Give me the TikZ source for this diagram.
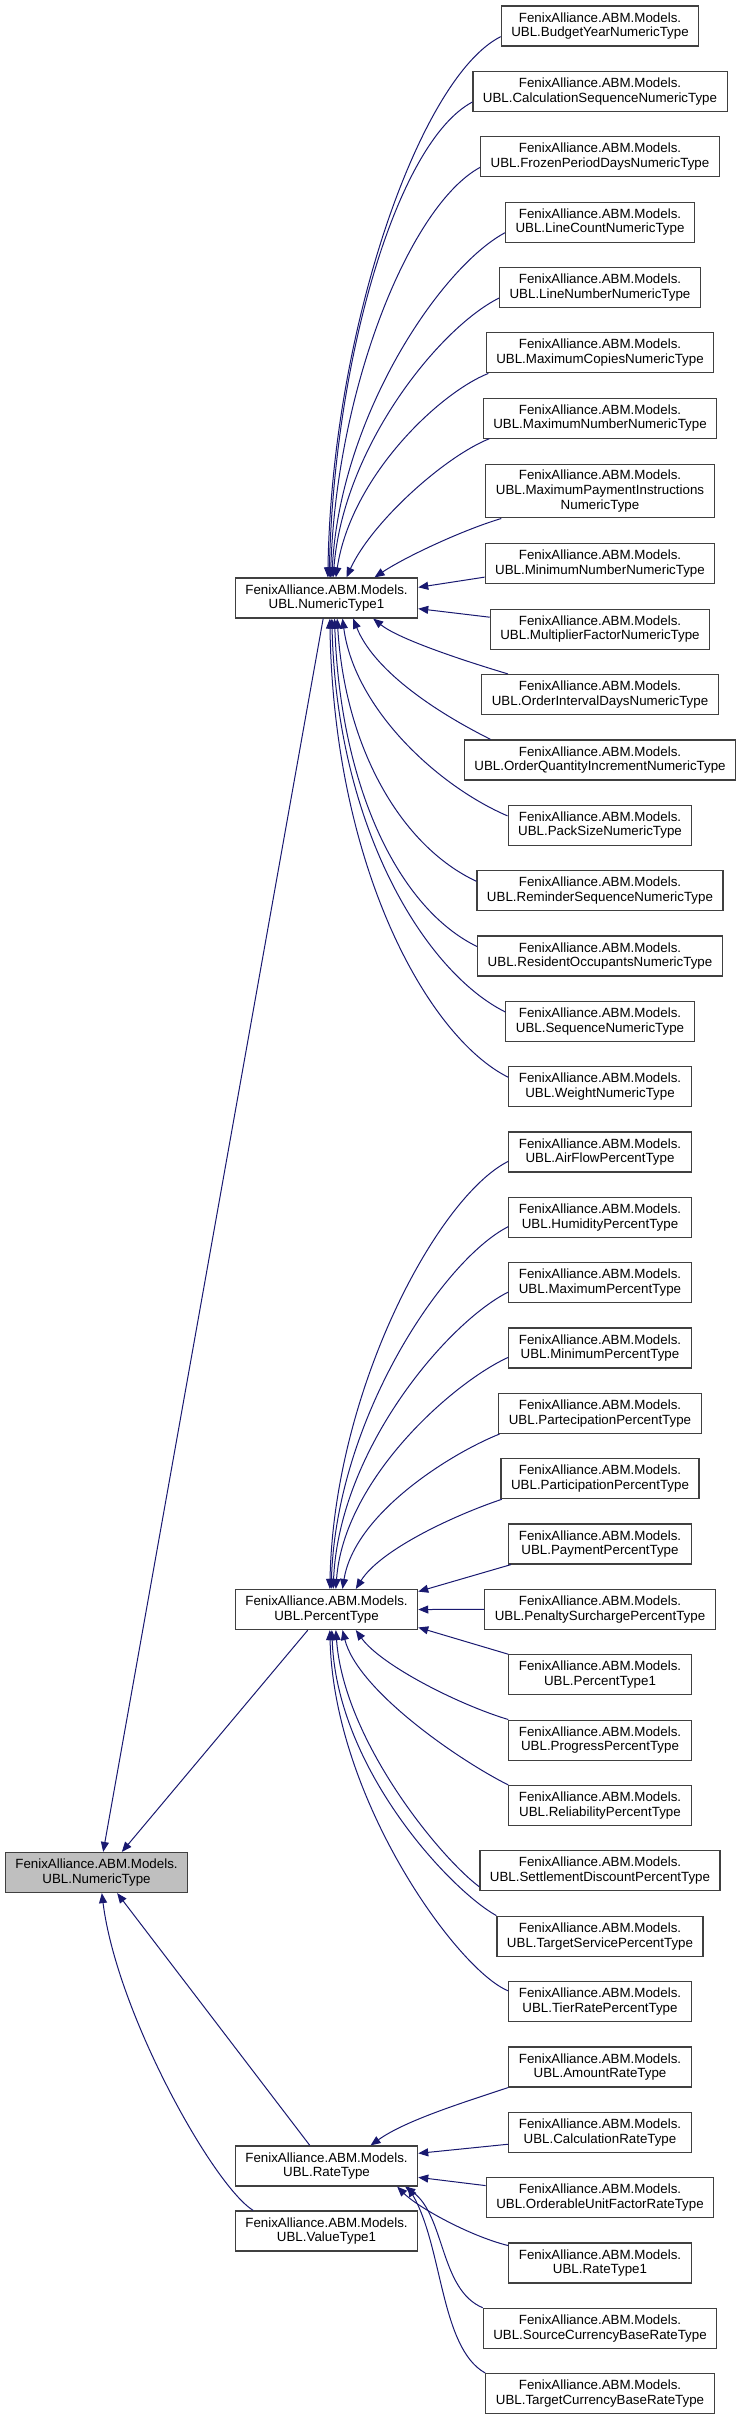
\documentclass[tikz,border=0pt]{standalone}
\usepackage{fontspec}
\setmainfont{Liberation Sans}
\usepackage{tikz}
\usetikzlibrary{arrows.meta}
\definecolor{edgecolor}{RGB}{25,25,112}
\definecolor{bordercolor}{RGB}{64,64,64}
\definecolor{rootcolor}{RGB}{191,191,191}

\tikzset{
  box/.style={draw=bordercolor, line width=0.9pt, fill=white, align=center,
    font=\fontsize{10}{11}\selectfont, inner xsep=7.5pt, inner ysep=4.5pt, minimum height=30pt},
  rootbox/.style={box, fill=rootcolor},
  edge/.style={draw=edgecolor, line width=0.75pt, -{Triangle[length=7.5pt,width=6pt]}}
}

\begin{document}
\begin{tikzpicture}[x=0.75pt, y=-0.75pt]
\useasboundingbox (0,0) rectangle (739,2420);

% Base class and the middle column
\node[rootbox] (numeric) at (96.5,1872.5) {FenixAlliance.ABM.Models.\\UBL.NumericType};
\node[box] (num1) at (326.5,598) {FenixAlliance.ABM.Models.\\UBL.NumericType1};
\node[box] (pct) at (326.5,1609.5) {FenixAlliance.ABM.Models.\\UBL.PercentType};
\node[box] (rate) at (326.5,2166) {FenixAlliance.ABM.Models.\\UBL.RateType};
\node[box] (value1) at (326.5,2231) {FenixAlliance.ABM.Models.\\UBL.ValueType1};

% Numeric types
\node[box] (bud) at (600,26) {FenixAlliance.ABM.Models.\\UBL.BudgetYearNumericType};
\node[box] (calcseq) at (600,91.4) {FenixAlliance.ABM.Models.\\UBL.CalculationSequenceNumericType};
\node[box] (frozen) at (600,156.7) {FenixAlliance.ABM.Models.\\UBL.FrozenPeriodDaysNumericType};
\node[box] (linecount) at (600,222.1) {FenixAlliance.ABM.Models.\\UBL.LineCountNumericType};
\node[box] (linenum) at (600,287.4) {FenixAlliance.ABM.Models.\\UBL.LineNumberNumericType};
\node[box] (maxcopies) at (600,352.8) {FenixAlliance.ABM.Models.\\UBL.MaximumCopiesNumericType};
\node[box] (maxnum) at (600,418.1) {FenixAlliance.ABM.Models.\\UBL.MaximumNumberNumericType};
\node[box] (maxpay) at (600,491) {FenixAlliance.ABM.Models.\\UBL.MaximumPaymentInstructions\\NumericType};
\node[box] (minnum) at (600,563.8) {FenixAlliance.ABM.Models.\\UBL.MinimumNumberNumericType};
\node[box] (multfac) at (600,629.2) {FenixAlliance.ABM.Models.\\UBL.MultiplierFactorNumericType};
\node[box] (ordint) at (600,694.5) {FenixAlliance.ABM.Models.\\UBL.OrderIntervalDaysNumericType};
\node[box] (ordqty) at (600,759.9) {FenixAlliance.ABM.Models.\\UBL.OrderQuantityIncrementNumericType};
\node[box] (packsize) at (600,825.2) {FenixAlliance.ABM.Models.\\UBL.PackSizeNumericType};
\node[box] (remseq) at (600,890.6) {FenixAlliance.ABM.Models.\\UBL.ReminderSequenceNumericType};
\node[box] (resocc) at (600,955.9) {FenixAlliance.ABM.Models.\\UBL.ResidentOccupantsNumericType};
\node[box] (seqnum) at (600,1021.3) {FenixAlliance.ABM.Models.\\UBL.SequenceNumericType};
\node[box] (weight) at (600,1086.6) {FenixAlliance.ABM.Models.\\UBL.WeightNumericType};

% Percent types
\node[box] (airflow) at (600,1152) {FenixAlliance.ABM.Models.\\UBL.AirFlowPercentType};
\node[box] (humidity) at (600,1217.3) {FenixAlliance.ABM.Models.\\UBL.HumidityPercentType};
\node[box] (maxpct) at (600,1282.7) {FenixAlliance.ABM.Models.\\UBL.MaximumPercentType};
\node[box] (minpct) at (600,1348) {FenixAlliance.ABM.Models.\\UBL.MinimumPercentType};
\node[box] (partec) at (600,1413.4) {FenixAlliance.ABM.Models.\\UBL.PartecipationPercentType};
\node[box] (partic) at (600,1478.7) {FenixAlliance.ABM.Models.\\UBL.ParticipationPercentType};
\node[box] (payment) at (600,1544) {FenixAlliance.ABM.Models.\\UBL.PaymentPercentType};
\node[box] (penalty) at (600,1609.4) {FenixAlliance.ABM.Models.\\UBL.PenaltySurchargePercentType};
\node[box] (pct1) at (600,1674.8) {FenixAlliance.ABM.Models.\\UBL.PercentType1};
\node[box] (progress) at (600,1740.1) {FenixAlliance.ABM.Models.\\UBL.ProgressPercentType};
\node[box] (reliab) at (600,1805.5) {FenixAlliance.ABM.Models.\\UBL.ReliabilityPercentType};
\node[box] (settle) at (600,1870.8) {FenixAlliance.ABM.Models.\\UBL.SettlementDiscountPercentType};
\node[box] (tgtserv) at (600,1936.2) {FenixAlliance.ABM.Models.\\UBL.TargetServicePercentType};
\node[box] (tierrate) at (600,2001.5) {FenixAlliance.ABM.Models.\\UBL.TierRatePercentType};

% Rate types
\node[box] (amount) at (600,2066.9) {FenixAlliance.ABM.Models.\\UBL.AmountRateType};
\node[box] (calcrate) at (600,2132.2) {FenixAlliance.ABM.Models.\\UBL.CalculationRateType};
\node[box] (orderable) at (600,2197.6) {FenixAlliance.ABM.Models.\\UBL.OrderableUnitFactorRateType};
\node[box] (rate1) at (600,2262.9) {FenixAlliance.ABM.Models.\\UBL.RateType1};
\node[box] (srccur) at (600,2328.3) {FenixAlliance.ABM.Models.\\UBL.SourceCurrencyBaseRateType};
\node[box] (tgtcur) at (600,2393.6) {FenixAlliance.ABM.Models.\\UBL.TargetCurrencyBaseRateType};

% Edges into NumericType1
\draw[edge] ([yshift=-8pt]bud.west) .. controls +(-80,40) and +(4,-250) .. ([xshift=1pt]num1.north);
\draw[edge] ([yshift=-8pt]calcseq.west) .. controls +(-75,40) and +(5,-220) .. ([xshift=2pt]num1.north);
\draw[edge] ([yshift=-8pt]frozen.west) .. controls +(-70,38) and +(6,-190) .. ([xshift=3pt]num1.north);
\draw[edge] ([yshift=-8pt]linecount.west) .. controls +(-65,35) and +(8,-160) .. ([xshift=4pt]num1.north);
\draw[edge] ([yshift=-8pt]linenum.west) .. controls +(-60,30) and +(10,-130) .. ([xshift=5pt]num1.north);
\draw[edge] ([xshift=2pt]maxcopies.south west) .. controls +(-50,20) and +(15,-100) .. ([xshift=7pt]num1.north);
\draw[edge] ([xshift=5pt]maxnum.south west) .. controls +(-45,18) and +(25,-55) .. ([xshift=15pt]num1.north);
\draw[edge] ([xshift=12pt]maxpay.south west) .. controls +(-40,12) and +(30,-20) .. ([xshift=36pt]num1.north);
\draw[edge] ([yshift=-10pt]minnum.west) -- ([yshift=8pt]num1.east);
\draw[edge] ([yshift=9pt]multfac.west) -- ([yshift=-8pt]num1.east);
\draw[edge] ([xshift=20pt]ordint.north west) .. controls +(-50,-15) and +(25,20) .. ([xshift=35pt]num1.south);
\draw[edge] ([xshift=20pt]ordqty.north west) .. controls +(-60,-30) and +(20,50) .. ([xshift=20pt]num1.south);
\draw[edge] ([yshift=7pt]packsize.west) .. controls +(-70,-30) and +(12,90) .. ([xshift=12pt]num1.south);
\draw[edge] ([yshift=7pt]remseq.west) .. controls +(-75,-35) and +(8,130) .. ([xshift=8pt]num1.south);
\draw[edge] ([yshift=7pt]resocc.west) .. controls +(-78,-38) and +(6,170) .. ([xshift=6pt]num1.south);
\draw[edge] ([yshift=7pt]seqnum.west) .. controls +(-80,-40) and +(5,210) .. ([xshift=4pt]num1.south);
\draw[edge] ([yshift=7pt]weight.west) .. controls +(-80,-40) and +(4,250) .. ([xshift=2.5pt]num1.south);

% Edges into PercentType
\draw[edge] ([yshift=-7pt]airflow.west) .. controls +(-70,35) and +(4,-200) .. ([xshift=2.5pt]pct.north);
\draw[edge] ([yshift=-7pt]humidity.west) .. controls +(-65,33) and +(5,-170) .. ([xshift=3.5pt]pct.north);
\draw[edge] ([yshift=-7pt]maxpct.west) .. controls +(-60,30) and +(6,-140) .. ([xshift=5pt]pct.north);
\draw[edge] ([yshift=-7pt]minpct.west) .. controls +(-55,25) and +(8,-110) .. ([xshift=7pt]pct.north);
\draw[edge] ([xshift=1pt]partec.south west) .. controls +(-50,20) and +(12,-75) .. ([xshift=12pt]pct.north);
\draw[edge] ([xshift=1pt]partic.south west) .. controls +(-45,15) and +(25,-40) .. ([xshift=22pt]pct.north);
\draw[edge] ([xshift=2pt]payment.south west) -- ([yshift=-2pt]pct.north east);
\draw[edge] (penalty.west) -- (pct.east);
\draw[edge] (pct1.north west) -- ([yshift=2pt]pct.south east);
\draw[edge] (progress.north west) .. controls +(-50,-15) and +(25,35) .. ([xshift=22pt]pct.south);
\draw[edge] (reliab.north west) .. controls +(-50,-25) and +(15,60) .. ([xshift=12pt]pct.south);
\draw[edge] ([yshift=-12pt]settle.west) .. controls +(-40,-30) and +(8,110) .. ([xshift=7pt]pct.south);
\draw[edge] (tgtserv.north west) .. controls +(-45,-25) and +(5,140) .. ([xshift=4pt]pct.south);
\draw[edge] ([yshift=8pt]tierrate.west) .. controls +(-50,-20) and +(4,170) .. ([xshift=2.5pt]pct.south);

% Edges into RateType
\draw[edge] (amount.south west) .. controls +(-45,15) and +(35,-25) .. ([xshift=33pt]rate.north);
\draw[edge] ([yshift=-9pt]calcrate.west) -- ([yshift=9.5pt]rate.east);
\draw[edge] ([yshift=9pt]orderable.west) -- ([yshift=-8.5pt]rate.east);
\draw[edge] ([yshift=13pt]rate1.west) .. controls +(-40,-10) and +(20,20) .. ([xshift=53pt]rate.south);
\draw[edge] (srccur.north west) .. controls +(-43,-18) and +(40,29) .. ([xshift=59pt]rate.south);
\draw[edge] (tgtcur.north west) .. controls +(-45,-25) and +(35,60) .. ([xshift=61pt]rate.south);

% Edges into NumericType
\draw[edge] ([xshift=-2.5pt]num1.south) -- ([xshift=5pt]numeric.north);
\draw[edge] ([xshift=-14pt]pct.south) -- ([xshift=19pt]numeric.north);
\draw[edge] ([xshift=-12.5pt]rate.north) -- ([xshift=15.5pt]numeric.south);
\draw[edge] ([xshift=-55pt]value1.north) .. controls +(-40,-25) and +(15,120) .. ([xshift=4pt]numeric.south);
\end{tikzpicture}
\end{document}
